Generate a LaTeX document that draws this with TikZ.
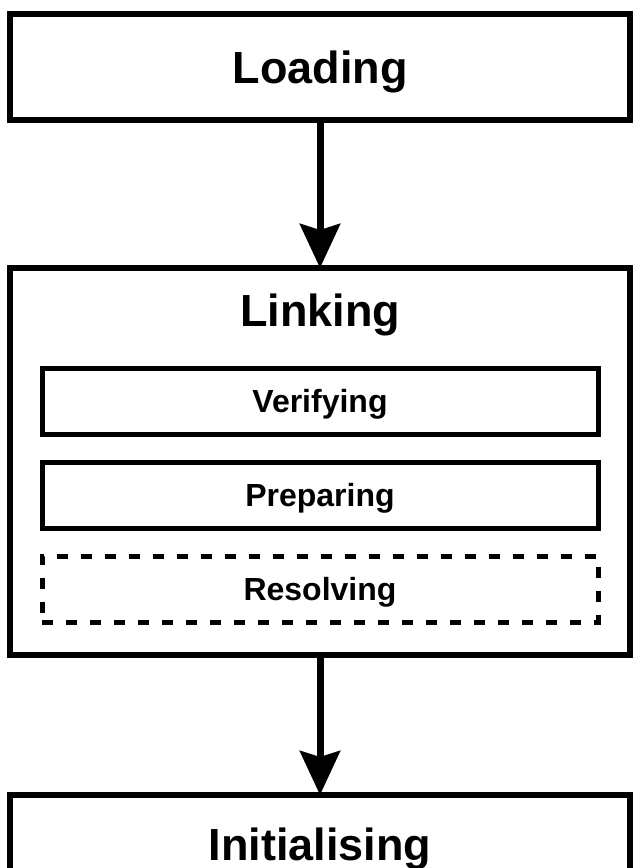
\documentclass[tikz,border=0pt]{standalone}
\usepackage{fontspec}
\setmainfont{Liberation Sans}
\usetikzlibrary{arrows.meta}
\begin{document}
\begin{tikzpicture}[x=1pt,y=-1pt,
  bigbox/.style={draw=black, line width=6pt, rectangle, outer sep=0pt, inner sep=0pt, minimum width=620pt},
  subbox/.style={draw=black, line width=5pt, rectangle, outer sep=0pt, inner sep=0pt, minimum width=556pt, minimum height=66pt},
  dashbox/.style={subbox, dash pattern=on 11pt off 13pt},
  bigtext/.style={font=\fontsize{45}{50}\selectfont\bfseries, inner sep=0pt, anchor=base},
  smalltext/.style={font=\fontsize{32}{36}\selectfont\bfseries, inner sep=0pt, anchor=base},
  flow/.style={line width=7pt, -{Stealth[length=44pt, width=40pt, inset=6pt]}}
]
\useasboundingbox (0,0) rectangle (640,868);
\clip (0,0) rectangle (640,868);
\fill[white] (0,0) rectangle (640,868);
\node[bigbox, minimum height=106pt] (loading) at (320,67) {};
\node[bigtext] (loadlabel) at (320,83.5) {Loading};
\node[bigbox, minimum height=387pt] (linking) at (320,461.5) {};
\node[bigtext] (linklabel) at (320,326) {Linking};
\node[subbox] (verify) at (320,401) {};
\node[smalltext] (verifylabel) at (320,412.5) {Verifying};
\node[subbox] (prepare) at (320,495) {};
\node[smalltext] (preparelabel) at (320,506.5) {Preparing};
\node[dashbox] (resolve) at (320,589) {};
\node[smalltext] (resolvelabel) at (320,600.5) {Resolving};
\node[bigbox, minimum height=130pt] (init) at (320,860) {};
\node[bigtext] (initlabel) at (320,860.5) {Initialising};
\draw[flow] (loading.south) -- (linking.north);
\draw[flow] (linking.south) -- (init.north);
\end{tikzpicture}
\end{document}
